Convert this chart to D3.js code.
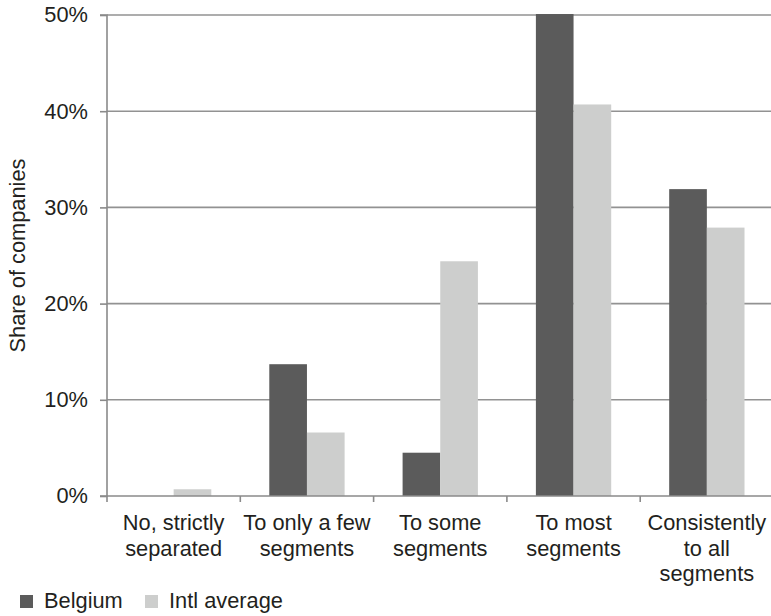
<!DOCTYPE html>
<html>
<head>
<meta charset="utf-8">
<script src="https://cdn.jsdelivr.net/npm/d3@7"></script>
<style>
  html, body { margin: 0; padding: 0; background: #fff; }
  svg { display: block; }
  text { font-family: "Liberation Sans", Arial, Helvetica, sans-serif; fill: #231f20; }
</style>
</head>
<body>
<svg id="chart" width="771" height="616"></svg>
<script>
const categories = [
  ["No, strictly", "separated"],
  ["To only a few", "segments"],
  ["To some", "segments"],
  ["To most", "segments"],
  ["Consistently", "to all", "segments"]
];
const seriesNames = ["Belgium", "Intl average"];
const belgium = [0.0, 13.7, 4.5, 50.1, 31.9];
const intlAverage = [0.7, 6.6, 24.4, 40.7, 27.9];
const yTicks = [0, 10, 20, 30, 40, 50];
const yTickLabels = ["0%", "10%", "20%", "30%", "40%", "50%"];
const colors = ["#5b5b5b", "#cdcecd"];

const svg = d3.select("#chart");
const plotLeft = 107, plotRight = 773.5, plotTop = 15, plotBottom = 496;
const fontSize = 21.8;

const x = d3.scaleBand().domain(d3.range(categories.length)).range([plotLeft, plotRight]);
const y = d3.scaleLinear().domain([0, 50]).range([plotBottom, plotTop]);
const barW = x.bandwidth() * 0.2825;
const sub = d3.scaleBand().domain([0, 1]).range([0, barW * 2]);

// gridlines
svg.append("g").selectAll("line").data(yTicks.filter(d => d > 0)).join("line")
  .attr("x1", plotLeft).attr("x2", plotRight)
  .attr("y1", d => y(d)).attr("y2", d => y(d))
  .attr("stroke", "#929292").attr("stroke-width", 1.6);

// bars
const series = [belgium, intlAverage];
const groups = svg.append("g").selectAll("g").data(categories).join("g")
  .attr("transform", (d, i) => `translate(${x(i) + (x.bandwidth() - barW * 2) / 2},0)`);
groups.selectAll("rect").data((d, i) => series.map((s, k) => ({k, v: s[i]}))).join("rect")
  .attr("x", d => sub(d.k))
  .attr("width", sub.bandwidth())
  .attr("y", d => y(d.v))
  .attr("height", d => plotBottom - y(d.v))
  .attr("fill", d => colors[d.k]);

// y axis
const yAxis = d3.axisLeft(y).tickValues(yTicks).tickFormat((d, i) => yTickLabels[i])
  .tickSize(7).tickPadding(12);
const gy = svg.append("g").attr("transform", `translate(${plotLeft},0)`).call(yAxis);
gy.select(".domain").attr("stroke", "#8a8a8a").attr("stroke-width", 1.6)
  .attr("d", `M-7,${plotTop}H0V${plotBottom}H-7`);
gy.selectAll(".tick line").attr("stroke", "#8a8a8a").attr("stroke-width", 1.6);
gy.selectAll(".tick text").attr("font-size", fontSize)
  .attr("font-family", "Liberation Sans, Arial, sans-serif").attr("fill", "#231f20");

// x axis line + boundary ticks
const gx = svg.append("g");
gx.append("line").attr("x1", plotLeft).attr("x2", plotRight).attr("y1", plotBottom).attr("y2", plotBottom)
  .attr("stroke", "#8a8a8a").attr("stroke-width", 1.6);
gx.selectAll("line.tk").data(d3.range(categories.length + 1)).join("line").attr("class", "tk")
  .attr("x1", i => i < categories.length ? x(i) : plotRight)
  .attr("x2", i => i < categories.length ? x(i) : plotRight)
  .attr("y1", plotBottom).attr("y2", plotBottom + 6)
  .attr("stroke", "#8a8a8a").attr("stroke-width", 1.6);

// category labels
const lbl = svg.append("g").selectAll("text").data(categories).join("text")
  .attr("text-anchor", "middle").attr("font-size", fontSize)
  .attr("x", (d, i) => x(i) + x.bandwidth() / 2);
lbl.selectAll("tspan").data(d => d).join("tspan")
  .attr("x", function() { return d3.select(this.parentNode).attr("x"); })
  .attr("y", (d, j) => 530 + j * 25.7)
  .text(d => d);

// y axis title
svg.append("text")
  .attr("transform", `translate(25,${(plotTop + plotBottom) / 2}) rotate(-90)`)
  .attr("text-anchor", "middle").attr("font-size", fontSize)
  .text("Share of companies");

// legend
const legendX = [20, 145];
const leg = svg.append("g").selectAll("g").data(seriesNames).join("g")
  .attr("transform", (d, i) => `translate(${legendX[i]},0)`);
leg.append("rect").attr("x", 0).attr("y", 595).attr("width", 13).attr("height", 13)
  .attr("fill", (d, i) => colors[i]);
leg.append("text").attr("x", 24).attr("y", 608).attr("font-size", fontSize).text(d => d);
</script>
</body>
</html>
